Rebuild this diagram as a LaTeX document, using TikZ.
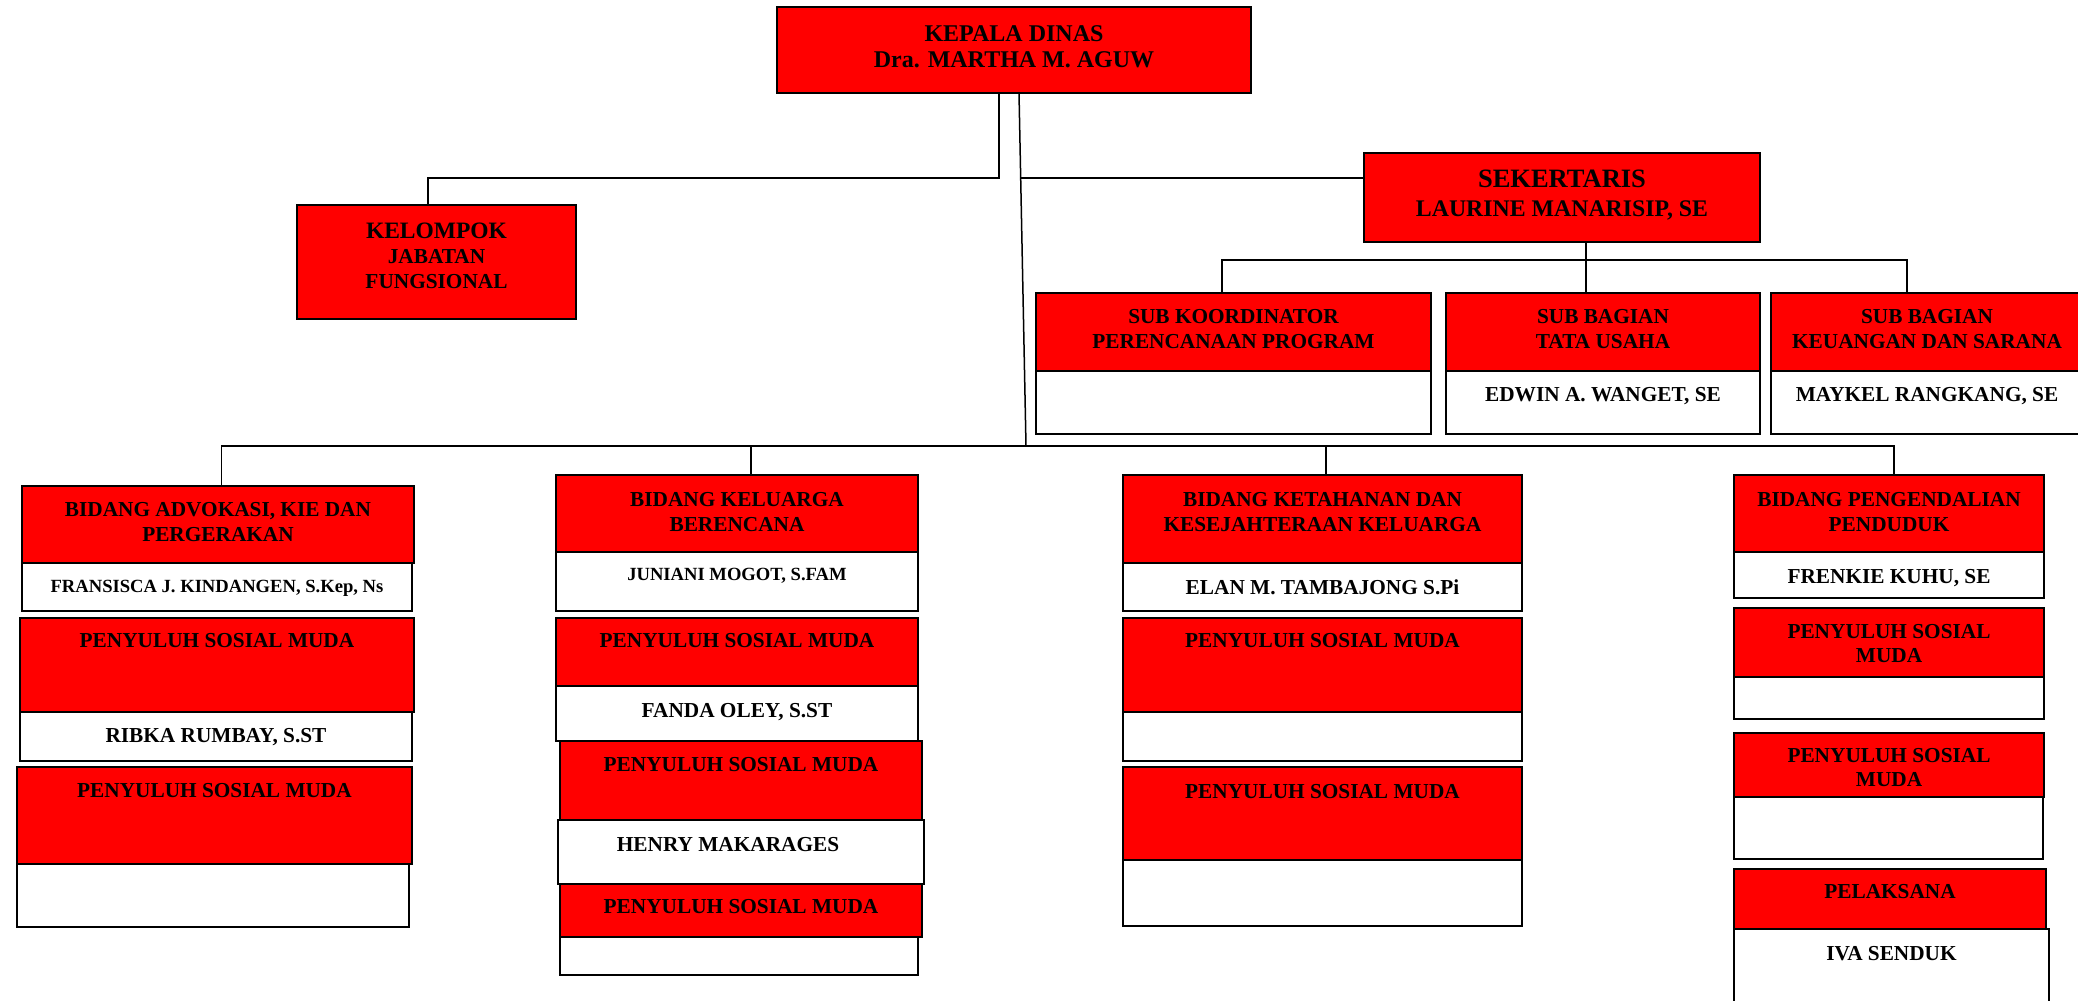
\documentclass[tikz,border=0pt]{standalone}
\usepackage{fontspec}
\setmainfont{Liberation Serif}
\definecolor{boxred}{RGB}{255,0,0}
\tikzset{
	redbox/.style={draw=black, fill=boxred, line width=2pt, inner sep=0pt, outer sep=0pt, anchor=north west},
	namebox/.style={redbox, fill=white},
	boxsize/.style 2 args={minimum width=#1pt, minimum height=#2pt},
	ttl/.style={anchor=north, yshift=-16.5pt, inner sep=0pt, draw=none, fill=none, minimum size=0pt, align=center, font=\bfseries\fontsize{21.3}{25}\selectfont},
	smallttl/.style={ttl, font=\bfseries\fontsize{18.6}{22}\selectfont},
	conn/.style={line width=1.5pt},
}
\begin{document}
\begin{tikzpicture}[x=1pt,y=-1pt]
	\useasboundingbox (0,0) rectangle (2078,1001);
	\fill[white] (0,0) rectangle (2078,1001);
	\clip (0,0) rectangle (2078,1001);
	% top
	\node[redbox, boxsize={474}{86}, label={[ttl, yshift=-1.5pt, font=\bfseries\fontsize{24}{26.7}\selectfont]north:{KEPALA DINAS\\Dra. MARTHA M. AGUW}}] (kepala) at (777,7) {};
	\node[redbox, boxsize={279}{114}, label={[ttl, yshift=-1pt]north:{{\fontsize{23.5}{25}\selectfont KELOMPOK}\\JABATAN\\FUNGSIONAL}}] (kelompok) at (297,205) {};
	\node[redbox, boxsize={396}{89}, label={[ttl, yshift=-0.5pt, font=\bfseries\fontsize{23.8}{29}\selectfont]north:{{\fontsize{26.5}{29}\selectfont SEKERTARIS}\\LAURINE MANARISIP, SE}}] (sekertaris) at (1364,153) {};
	% sekertaris
	\node[redbox, boxsize={395}{78}, label={[ttl]north:{SUB KOORDINATOR\\PERENCANAAN PROGRAM}}] (subkoor) at (1036,293) {};
	\node[namebox, boxsize={395}{63}] (subkoorN) at (1036,371) {};
	\node[redbox, boxsize={314}{78}, label={[ttl]north:{SUB BAGIAN\\TATA USAHA}}] (tatausaha) at (1446,293) {};
	\node[namebox, boxsize={314}{63}, label={[ttl]north:{EDWIN A. WANGET, SE}}] (tatausahaN) at (1446,371) {};
	\node[redbox, boxsize={312}{78}, label={[ttl]north:{SUB BAGIAN\\KEUANGAN DAN SARANA}}] (keuangan) at (1771,293) {};
	\node[namebox, boxsize={312}{63}, label={[ttl]north:{MAYKEL RANGKANG, SE}}] (keuanganN) at (1771,371) {};
	% bidang advokasi
	\node[redbox, boxsize={392}{77}, label={[ttl, yshift=0.5pt]north:{BIDANG ADVOKASI, KIE DAN\\PERGERAKAN}}] (advokasi) at (22,486) {};
	\node[namebox, boxsize={390}{48}, label={[smallttl]north:{FRANSISCA J. KINDANGEN, S.Kep, Ns}}] (advokasiN) at (22,563) {};
	\node[redbox, boxsize={394}{94}, label={[ttl, yshift=1.5pt]north:{PENYULUH SOSIAL MUDA}}] (adv1) at (20,618) {};
	\node[namebox, boxsize={392}{49}, label={[ttl]north:{RIBKA RUMBAY, S.ST}}] (adv1N) at (20,712) {};
	\node[redbox, boxsize={395}{97}, label={[ttl]north:{PENYULUH SOSIAL MUDA}}] (adv2) at (17,767) {};
	\node[namebox, boxsize={392}{63}] (adv2N) at (17,864) {};
	% bidang kb
	\node[redbox, boxsize={362}{77}, label={[ttl, yshift=-0.5pt]north:{BIDANG KELUARGA\\BERENCANA}}] (kb) at (556,475) {};
	\node[namebox, boxsize={362}{59}, label={[smallttl, yshift=0.5pt]north:{JUNIANI MOGOT, S.FAM}}] (kbN) at (556,552) {};
	\node[redbox, boxsize={362}{68}, label={[ttl, yshift=1.5pt]north:{PENYULUH SOSIAL MUDA}}] (kb1) at (556,618) {};
	\node[namebox, boxsize={362}{55}, label={[ttl, yshift=-0.5pt]north:{FANDA OLEY, S.ST}}] (kb1N) at (556,686) {};
	\node[redbox, boxsize={362}{79}, label={[ttl]north:{PENYULUH SOSIAL MUDA}}] (kb2) at (560,741) {};
	\node[namebox, boxsize={366}{64}, label={[ttl, yshift=-0.5pt, xshift=-13pt]north:{HENRY MAKARAGES}}] (kb2N) at (558,820) {};
	\node[redbox, boxsize={362}{53}, label={[ttl, yshift=1pt]north:{PENYULUH SOSIAL MUDA}}] (kb3) at (560,884) {};
	\node[namebox, boxsize={358}{38}] (kb3N) at (560,937) {};
	% bidang ketahanan
	\node[redbox, boxsize={399}{88}, label={[ttl, yshift=-0.5pt]north:{BIDANG KETAHANAN DAN\\KESEJAHTERAAN KELUARGA}}] (kk) at (1123,475) {};
	\node[namebox, boxsize={399}{48}, label={[ttl]north:{ELAN M. TAMBAJONG S.Pi}}] (kkN) at (1123,563) {};
	\node[redbox, boxsize={399}{94}, label={[ttl, yshift=1.5pt]north:{PENYULUH SOSIAL MUDA}}] (kk1) at (1123,618) {};
	\node[namebox, boxsize={399}{49}] (kk1N) at (1123,712) {};
	\node[redbox, boxsize={399}{93}, label={[ttl, yshift=-1pt]north:{PENYULUH SOSIAL MUDA}}] (kk2) at (1123,767) {};
	\node[namebox, boxsize={399}{66}] (kk2N) at (1123,860) {};
	% bidang pengendalian
	\node[redbox, boxsize={310}{77}, label={[ttl, yshift=-0.5pt]north:{BIDANG PENGENDALIAN\\PENDUDUK}}] (dal) at (1734,475) {};
	\node[namebox, boxsize={310}{46}, label={[ttl, yshift=-0.5pt]north:{FRENKIE KUHU, SE}}] (dalN) at (1734,552) {};
	\node[redbox, boxsize={310}{69}, label={[ttl, font=\bfseries\fontsize{21.3}{24}\selectfont]north:{PENYULUH SOSIAL\\MUDA}}] (dal1) at (1734,608) {};
	\node[namebox, boxsize={310}{42}] (dal1N) at (1734,677) {};
	\node[redbox, boxsize={310}{64}, label={[ttl, yshift=1.5pt, font=\bfseries\fontsize{21.3}{24}\selectfont]north:{PENYULUH SOSIAL\\MUDA}}] (dal2) at (1734,733) {};
	\node[namebox, boxsize={309}{62}] (dal2N) at (1734,797) {};
	\node[redbox, boxsize={312}{60}, label={[ttl, yshift=1pt]north:{PELAKSANA}}] (pel) at (1734,869) {};
	\node[namebox, boxsize={315}{80}, label={[ttl, yshift=-0.5pt]north:{IVA SENDUK}}] (pelN) at (1734,929) {};
	% lines
	\coordinate (kj) at (428,178);
	\coordinate (sk) at (1020,178);
	\coordinate (sb) at (1586,260);
	\coordinate (bus) at (1026,446);
	\draw[conn] ([xshift=-15pt]kepala.south) |- (kj) -- (kj |- kelompok.north);
	\draw[conn] ([xshift=5pt]kepala.south) -- (bus);
	\draw[conn] (sk) -- (sk -| sekertaris.west);
	\draw[conn] ([xshift=24pt]sekertaris.south) -- ([xshift=24pt]sekertaris.south |- tatausaha.north);
	\draw[conn] ([xshift=-11.5pt]subkoor.north) |- (sb) -| ([xshift=-20pt]keuangan.north);
	\draw[conn] ([xshift=3.5pt]advokasi.north) |- (bus) -| ([xshift=5pt]dal.north);
	\draw[conn] ([xshift=14pt]kb.north) -- ([xshift=14pt]kb.north |- bus);
	\draw[conn] ([xshift=3.5pt]kk.north) -- ([xshift=3.5pt]kk.north |- bus);
\end{tikzpicture}
\end{document}
